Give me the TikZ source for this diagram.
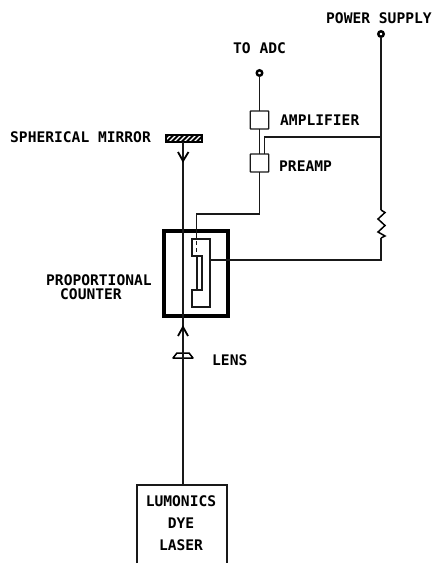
\documentclass[tikz,border=0pt]{standalone}
\usepackage{fontspec}
\setmainfont{DejaVu Sans Mono}[BoldFont={DejaVu Sans Mono Bold}]
\usetikzlibrary{calc}
\tikzset{
  wire/.style={line width=1.15pt,black!90},
  boxn/.style={draw,line width=1.3pt,black!90,minimum width=18.5pt,minimum height=18pt,inner sep=0pt,outer sep=0pt,rounded corners=0.6pt},
  lbl/.style={font=\fontsize{14.6pt}{16pt}\selectfont\bfseries,inner sep=0pt,anchor=base west,black},
  lblc/.style={font=\fontsize{14.6pt}{16pt}\selectfont\bfseries,inner sep=0pt,anchor=base,black},
  term/.style={circle,draw,line width=2.4pt,fill=white,minimum size=5.5pt,inner sep=0pt,outer sep=0pt},
  chev/.style={line width=1.8pt,black,line join=miter}
}
\begin{document}
\begin{tikzpicture}[x=1pt,y=-1pt]
\useasboundingbox (0,0) rectangle (433,565);
% labels
\node[lbl] at (326,23) {POWER SUPPLY};
\node[lbl] at (233,53) {TO ADC};
\node[lbl] at (280,125) {AMPLIFIER};
\node[lbl] at (279,171) {PREAMP};
\node[lbl] at (10,142) {SPHERICAL MIRROR};
\node[lbl] at (46,285.5) {PROPORTIONAL};
\node[lbl] at (60,299.5) {COUNTER};
\node[lbl] at (212,365) {LENS};
\node[lblc] at (181,506) {LUMONICS};
\node[lblc] at (181,528) {DYE};
\node[lblc] at (181,550) {LASER};
% terminals
\node[term] (adc) at (259.5,73) {};
\node[term] (ps) at (381,34) {};
% boxes
\node[boxn] (amp) at (259.5,120) {};
\node[boxn] (pre) at (259.5,163) {};
\node[minimum width=90pt,minimum height=78pt,inner sep=0pt,outer sep=0pt] (laser) at (182,524) {};
\coordinate (lasbl) at (137,563);
\coordinate (lasbr) at (227,563);
\draw[line width=1.3pt,black!90] (lasbl) -- (laser.north west) -- (laser.north east) -- (lasbr);
% counter
\node[draw,line width=3.4pt,minimum width=64pt,minimum height=85pt,inner sep=0pt,outer sep=0pt] (ctr) at (196,273.5) {};
% mirror
\node[draw,line width=2.2pt,minimum width=36pt,minimum height=7pt,inner sep=0pt,outer sep=0pt,fill=white,
  path picture={\foreach \k in {-24,-19,...,24} {\draw[line width=1.8pt,black] ($(path picture bounding box.center)+(\k pt,-5pt)$) -- ++(10pt,10pt);}}] (mirror) at (184,138.5) {};
% beam
\coordinate (beamtop) at (183,143);
\draw[wire] (laser.north -| beamtop) -- (mirror.south -| beamtop);
\coordinate (dn) at (183,161);
\draw[chev] (178,152) -- (dn) -- (188.5,152);
\coordinate (up) at (183,327);
\draw[chev] (178,336) -- (up) -- (188,336);
% lens
\fill[white] (173,358) -- (177,353) -- (189,353) -- (193,358) -- cycle;
\draw[line width=1.5pt,black,line join=round] (173,358) -- (177,353) -- (189,353) -- (193,358) -- cycle;
\draw[wire] (183,350) -- (183,366);
% wires
\draw[wire] (adc) -- (amp);
\draw[wire] (amp) -- (pre);
\coordinate (ptop) at (264.5,154);
\coordinate (pj) at (264.5,137);
\coordinate (pc) at (381,137);
\draw[wire] (ptop) -- (pj) -- (pc);
\coordinate (rtop) at (381,210);
\coordinate (rbot) at (381,238);
\draw[wire] (ps) -- (rtop);
\draw[line width=1.5pt,black,line join=miter] (rtop) -- (385,212.5) -- (378,219) -- (385,225.5) -- (378,232) -- (385,236) -- (rbot);
% cell
\draw[wire,line join=miter] (192,239) -- (210,239) -- (210,307) -- (192,307) -- (192,290) -- (202,290) -- (202,256) -- (192,256) -- cycle;
\draw[wire] (197,256) -- (197,290);
\draw[wire,dash pattern=on 4pt off 3pt] (196.5,241) -- (196.5,254);
\coordinate (cellin) at (196.5,239);
\coordinate (cellr) at (210,260);
\draw[wire] (pre) -- (259.5,214) -- (196.5,214) -- (cellin);
\draw[wire] (cellr) -- (381,260) -- (rbot);
\end{tikzpicture}
\end{document}
